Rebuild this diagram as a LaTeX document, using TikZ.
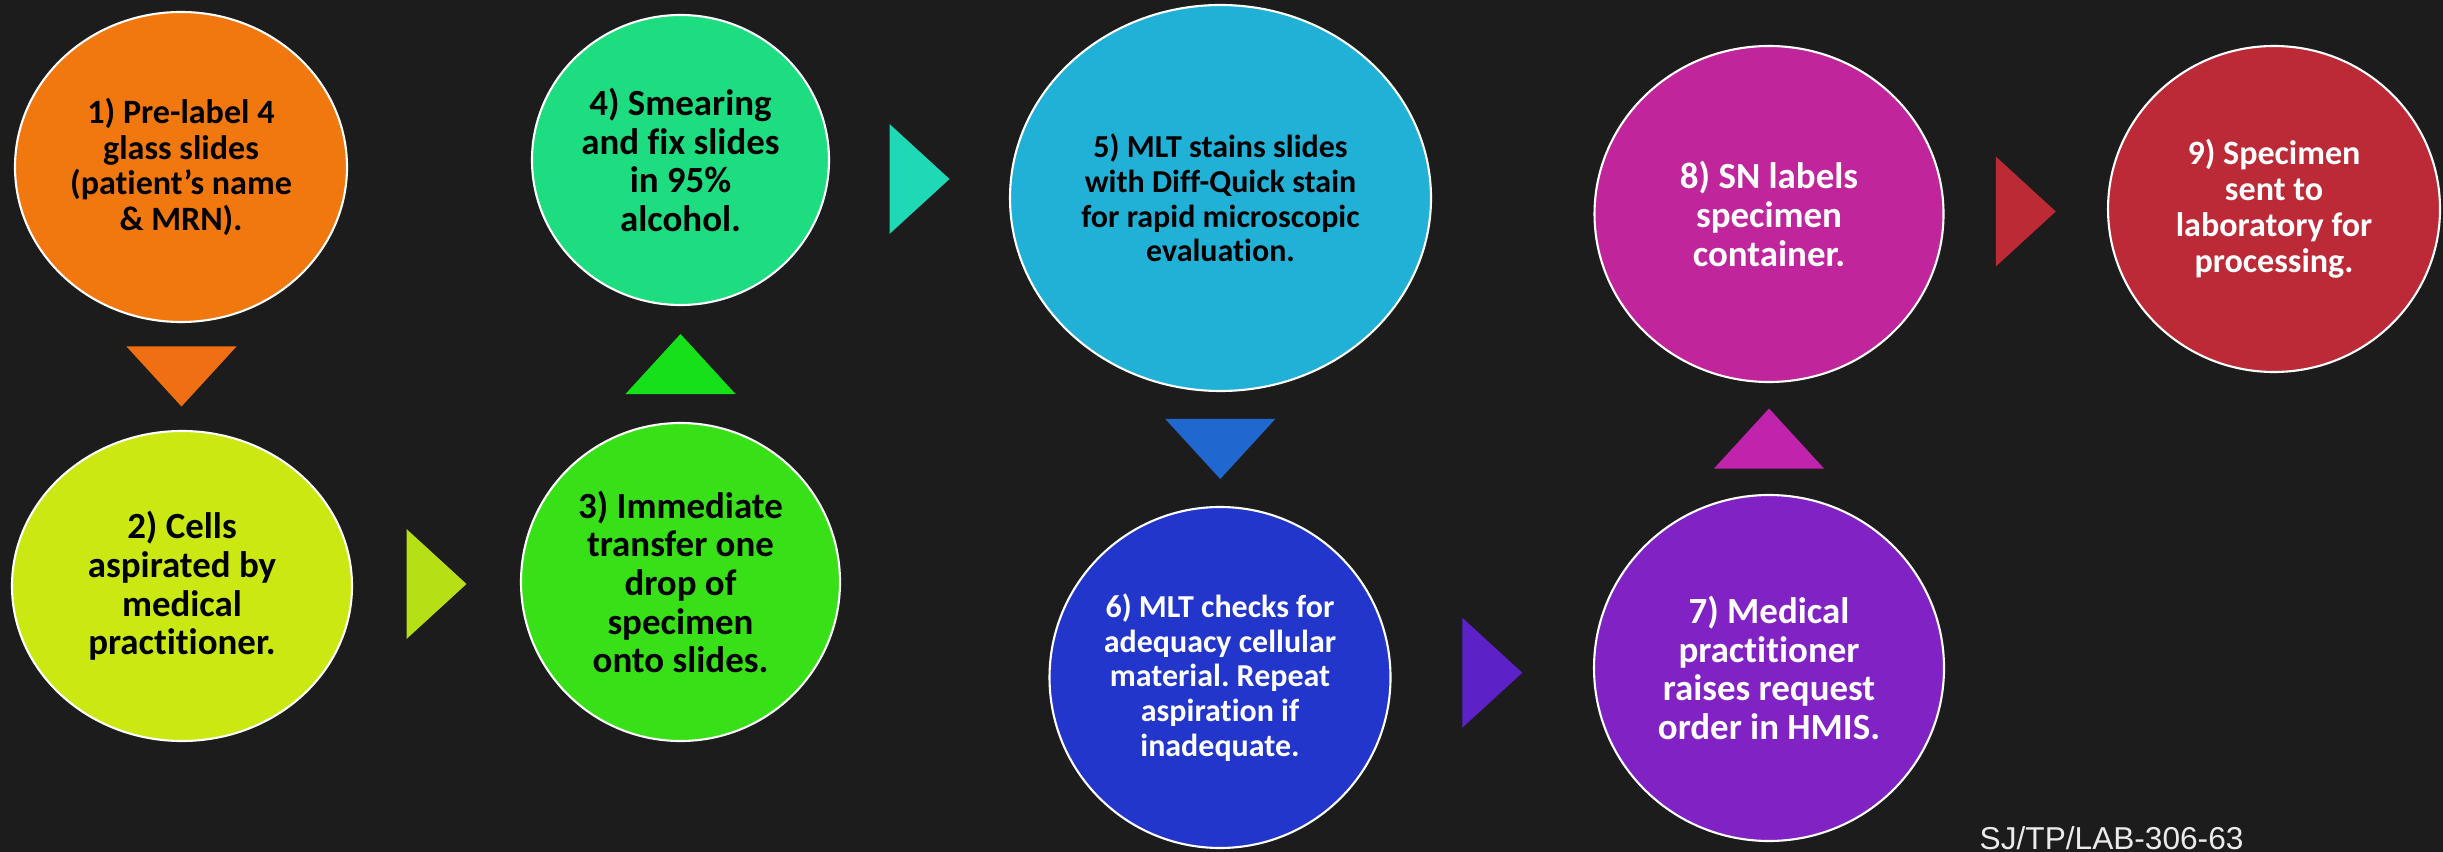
\documentclass[tikz,border=0pt]{standalone}
\usepackage{fontspec}
\setmainfont[Ligatures=NoCommon]{Carlito}
\newfontfamily\tagfont{Liberation Sans}
\usetikzlibrary{shapes.geometric,calc}
\frenchspacing

\definecolor{bgdark}{HTML}{1C1C1C}
\definecolor{cone}{HTML}{F0780F}
\definecolor{ctwo}{HTML}{CBE813}
\definecolor{cthree}{HTML}{38E017}
\definecolor{cfour}{HTML}{1EDC80}
\definecolor{cfive}{HTML}{21B1D6}
\definecolor{csix}{HTML}{2236CC}
\definecolor{cseven}{HTML}{8022C4}
\definecolor{ceight}{HTML}{C0259C}
\definecolor{cnine}{HTML}{BB2A36}
\definecolor{tone}{HTML}{EF6F12}
\definecolor{ttwo}{HTML}{B6E013}
\definecolor{tthree}{HTML}{16E01A}
\definecolor{tfour}{HTML}{1ED8B6}
\definecolor{tfive}{HTML}{2068D0}
\definecolor{tsix}{HTML}{5C22C8}
\definecolor{tseven}{HTML}{C024AC}
\definecolor{teight}{HTML}{BC2A36}

% triangle pointer halfway between two anchors
\newcommand{\flowtri}[4]{\fill[#1, shift={($(#2)!0.5!(#3)$)}, rotate=#4] (0.3,0) -- (-0.3,0.55) -- (-0.3,-0.55) -- cycle;}

\begin{document}
\begin{tikzpicture}[
  stage/.style={ellipse, draw=white, line width=0.6pt, inner sep=0pt, align=center},
  bigtxt/.style={font=\fontsize{10.5}{11}\selectfont\bfseries},
  midtxt/.style={font=\fontsize{9.7}{10.2}\selectfont\bfseries},
  smalltxt/.style={font=\fontsize{9.1}{9.9}\selectfont\bfseries}
]
\fill[bgdark] (0,0) rectangle (24.43,-8.52);
\useasboundingbox (0,0) rectangle (24.43,-8.52);

% Left pair
\node[stage, midtxt, fill=cone, minimum width=3.32cm, minimum height=3.10cm] (e1) at (1.81,-1.67) {1) Pre-label 4\\glass slides\\(patient’s name\\\& MRN).};
\node[stage, bigtxt, fill=ctwo, minimum width=3.40cm, minimum height=3.10cm] (e2) at (1.82,-5.86) {2) Cells\\aspirated by\\medical\\practitioner.};
\node[stage, bigtxt, fill=cthree, minimum width=3.19cm, minimum height=3.18cm] (e3) at (6.805,-5.82) {3) Immediate\\transfer one\\drop of\\specimen\\onto slides.};
\node[stage, bigtxt, fill=cfour, minimum width=2.97cm, minimum height=2.90cm] (e4) at (6.805,-1.60) {4) Smearing\\and fix slides\\in 95\%\\alcohol.};

% Middle pair
\node[stage, smalltxt, fill=cfive, minimum width=4.21cm, minimum height=3.86cm] (e5) at (12.205,-1.98) {5) MLT stains slides\\with Diff-Quick stain\\for rapid microscopic\\evaluation.};
\node[stage, smalltxt, text=white, fill=csix, minimum width=3.41cm, minimum height=3.41cm] (e6) at (12.20,-6.775) {6) MLT checks for\\adequacy cellular\\material. Repeat\\aspiration if\\inadequate.};

% Right side
\node[stage, bigtxt, text=white, fill=cseven, minimum width=3.50cm, minimum height=3.46cm] (e7) at (17.69,-6.68) {7) Medical\\practitioner\\raises request\\order in HMIS.};
\node[stage, bigtxt, text=white, fill=ceight, minimum width=3.49cm, minimum height=3.36cm] (e8) at (17.69,-2.14) {8) SN labels\\specimen\\container.};
\node[stage, midtxt, text=white, fill=cnine, minimum width=3.32cm, minimum height=3.26cm] (e9) at (22.74,-2.09) {9) Specimen\\sent to\\laboratory for\\processing.};

% Pointers
\flowtri{tone}{e1.south}{e2.north}{-90}
\flowtri{ttwo}{e2.east}{e3.west}{0}
\flowtri{tthree}{e3.north}{e4.south}{90}
\flowtri{tfour}{e4.east}{e5.west}{0}
\flowtri{tfive}{e5.south}{e6.north}{-90}
\flowtri{tsix}{e6.east}{e7.west}{0}
\flowtri{tseven}{e7.north}{e8.south}{90}
\flowtri{teight}{e8.east}{e9.west}{0}

% Document code
\node[anchor=base west, inner sep=0pt, text=white!92!black, font=\tagfont\fontsize{9}{10}\selectfont] (docref) at (19.79,-8.49) {SJ/TP/LAB-306-63};
\end{tikzpicture}
\end{document}
